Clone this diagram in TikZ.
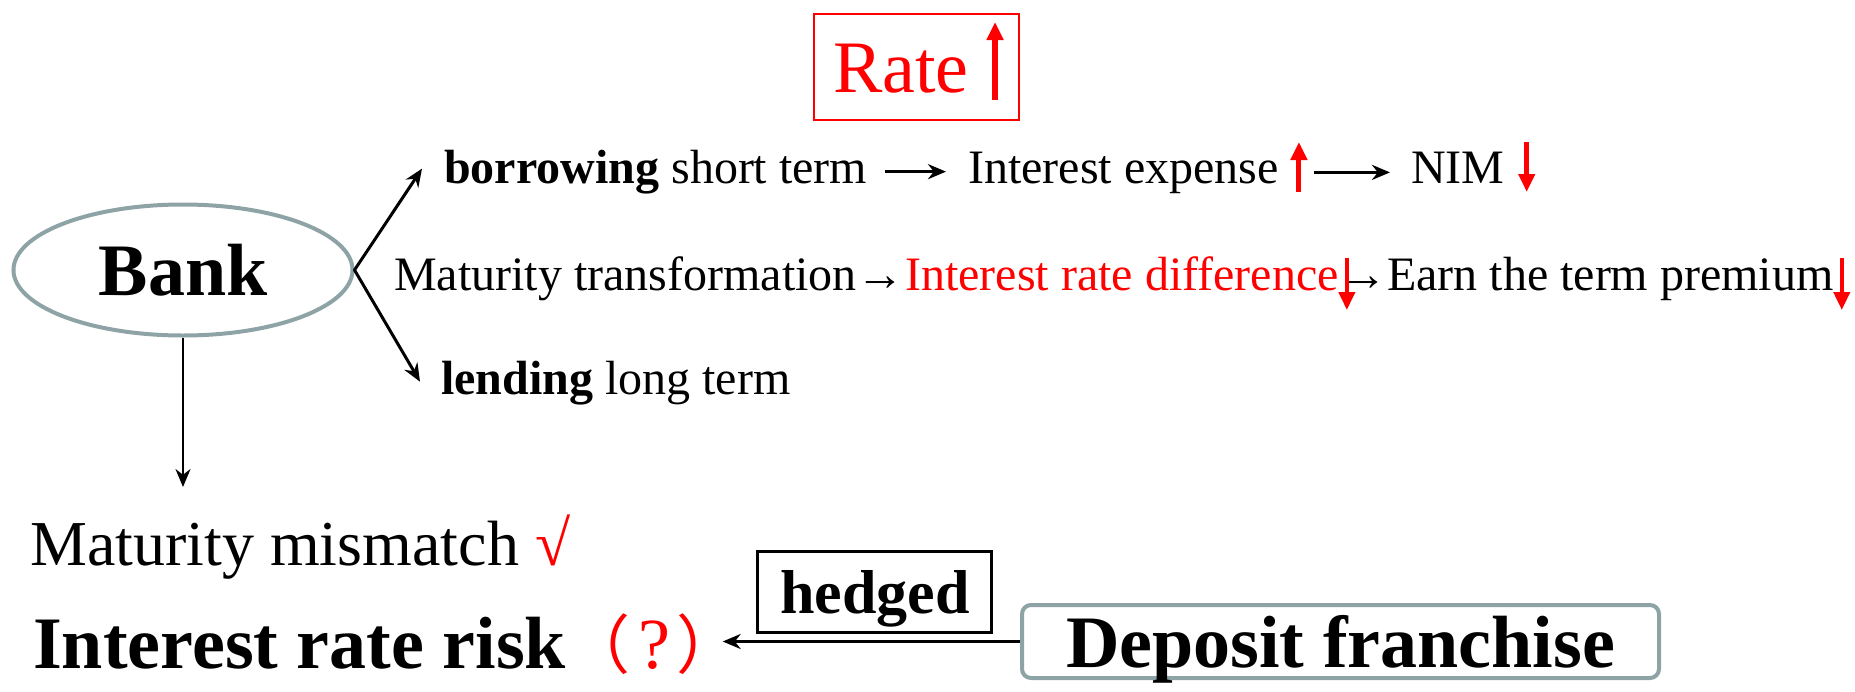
\documentclass[tikz,border=0pt]{standalone}
\usepackage{fontspec}
\setmainfont{Liberation Serif}
\newfontfamily\cjk{Noto Sans CJK SC}
\usetikzlibrary{arrows.meta,positioning,shapes.geometric}
\definecolor{hot}{HTML}{FF0000}
\definecolor{rim}{HTML}{8EA3A6}
\newcommand{\fsz}[1]{\fontsize{#1}{#1}\selectfont}
\tikzset{
  >={Stealth[length=18pt,width=15pt]},
  txt/.style={anchor=base west,inner sep=0pt,font=\fsz{48}},
  bigtxt/.style={anchor=base west,inner sep=0pt,font=\fsz{74}\bfseries},
  arr/.style={->,line width=3pt},
  uparr/.style={-{Triangle[length=18pt,width=16pt]},draw=hot,line width=5pt},
}
\begin{document}
\begin{tikzpicture}[x=1pt,y=-1pt]
\useasboundingbox (0,0) rectangle (1855,691);
% rate going up
\node[draw=hot,line width=2pt,minimum width=205pt,minimum height=106pt,inner sep=0pt] (ratebox) at (916.5,66.5) {};
\node[anchor=base west,inner sep=0pt,font=\fsz{74},text=hot] (rate) at (833,92) {Rate};
\draw[uparr,line width=6pt] ([xshift=26pt,yshift=-8pt]rate.base east) -- ++(0,-78);

% the bank
\node[ellipse,draw=rim,line width=4pt,minimum width=339pt,minimum height=131pt,font=\fsz{74}\bfseries,text depth=0pt] (bank) at (183,270) {Bank};

% short side
\node[txt] (borrow) at (444,183) {\textbf{borrowing} short term};
\node[txt] (expense) at (968,183) {Interest expense};
\node[txt] (nim) at (1411,183) {NIM};
\draw[arr,shorten <=17pt,shorten >=22pt] (borrow.east) -- (borrow.east -| expense.west);
\draw[uparr] ([xshift=20pt,yshift=-9pt]expense.base east) -- ++(0,-50);
\draw[arr,shorten <=35pt,shorten >=21pt] (expense.east) -- (expense.east -| nim.west);
\draw[uparr] ([xshift=22pt,yshift=41pt]nim.base east) -- ++(0,50);

% maturity transformation
\node[txt] (mt) at (394,290) {Maturity transformation→};
\node[txt,text=hot] (diff) at (mt.base east) {Interest rate difference};
\node[txt] (earn) at (diff.base east) {→Earn the term premium};
\draw[uparr,line width=4pt] ([xshift=8pt,yshift=32pt]diff.base east) -- ++(0,52);
\draw[uparr,line width=4pt] ([xshift=8pt,yshift=32pt]earn.base east) -- ++(0,52);

% long side
\node[txt] (lend) at (441,394) {\textbf{lending} long term};
\draw[arr,line cap=round] (bank.east) -- ([xshift=-22pt,yshift=3pt]borrow.west);
\draw[arr,line cap=round] (bank.east) -- ([xshift=-21pt,yshift=1pt]lend.west);

% mismatch and risk
\node[anchor=base west,inner sep=0pt,font=\fsz{64}] (mm) at (30,565) {Maturity mismatch {\color{hot}√}};
\draw[arr,line width=2.4pt] (bank.south) -- ([yshift=78pt]bank.south |- mm.base);
\node[bigtxt] (risk) at (33,668) {Interest rate risk};
\node[anchor=base west,inner sep=0pt,font=\fsz{64}\cjk,text=hot] (ask) at (risk.base east) {（\hspace{8pt}{\rmfamily\fsz{72}?}\hspace{6pt}）};

% deposit franchise
\node[draw=rim,rounded corners=9pt,line width=4pt,minimum width=637pt,minimum height=73pt,font=\fsz{74}\bfseries,text depth=0pt,inner sep=0pt] (dep) at (1340.5,641.5) {Deposit franchise};
\draw[arr] (dep.west) -- node[pos=0.488,anchor=south,yshift=8pt,draw,line width=3pt,minimum width=234pt,minimum height=81pt,font=\fsz{62}\bfseries,text depth=0pt,inner sep=0pt] (hedged) {hedged} ([xshift=-18pt]ask.east |- dep.west);
\end{tikzpicture}
\end{document}
